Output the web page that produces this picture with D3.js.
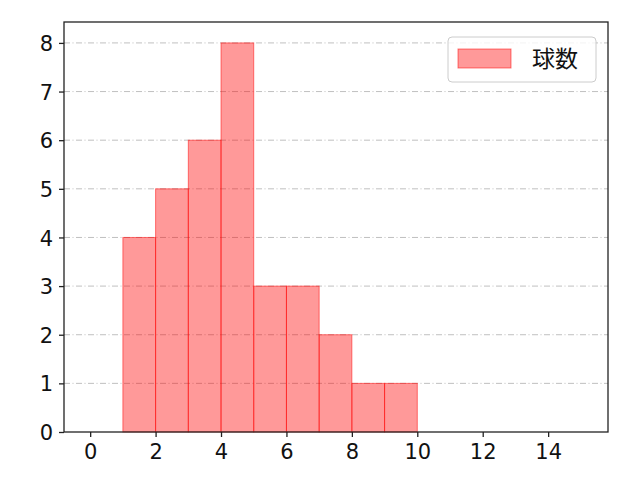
<!DOCTYPE html>
<html><head><meta charset="utf-8">
<script src="https://cdn.jsdelivr.net/npm/d3@7"></script>
<style>body{margin:0;background:#fff}</style>
</head><body>
<svg id="c" width="640" height="480"></svg>
<script>
const binStarts = [1,2,3,4,5,6,7,8,9];
const counts = [4,5,6,8,3,3,2,1,1];
const binWidth = 1;
const xTicks = [0,2,4,6,8,10,12,14];
const yTicks = [0,1,2,3,4,5,6,7,8];
const seriesName = "球数";

const svg = d3.select("#c");
const L=64,R=608,T=22,B=432;
const x = d3.scaleLinear().domain([-0.8,15.83]).range([L,R]);
const y = d3.scaleLinear().domain([0,8.43]).range([B,T]);
const font = "DejaVu Sans, sans-serif";
const cjk = "Noto Sans CJK JP, sans-serif";

// grid
svg.append("g").selectAll("line").data(yTicks.filter(d=>d>0)).join("line")
  .attr("x1",L).attr("x2",R).attr("y1",d=>y(d)).attr("y2",d=>y(d))
  .attr("stroke","#b0b0b0").attr("stroke-width",0.8).attr("stroke-dasharray","6,2.5,1,2.5");

// bars
svg.append("g").selectAll("rect").data(binStarts.map((s,i)=>({s,c:counts[i]}))).join("rect")
  .attr("x",d=>x(d.s)).attr("width",d=>x(d.s+binWidth)-x(d.s))
  .attr("y",d=>y(d.c)).attr("height",d=>y(0)-y(d.c))
  .attr("fill","rgb(255,0,0)").attr("fill-opacity",0.4)
  .attr("stroke","rgb(255,0,0)").attr("stroke-opacity",0.5).attr("stroke-width",1);

// axes
const xa = svg.append("g").attr("transform",`translate(0,${B})`)
  .call(d3.axisBottom(x).tickValues(xTicks).tickSize(5).tickPadding(5).tickFormat(d3.format("d")));
const ya = svg.append("g").attr("transform",`translate(${L},0)`)
  .call(d3.axisLeft(y).tickValues(yTicks).tickSize(5).tickPadding(6).tickFormat(d3.format("d")));
[xa,ya].forEach(a=>{
  a.attr("font-size",null).attr("font-family",null);
  a.select(".domain").remove();
  a.selectAll(".tick line").attr("stroke","#222").attr("stroke-width",1.3);
  a.selectAll("text").attr("font-family",font).attr("font-size",21).attr("fill","#111");
});
xa.selectAll("text").attr("dy","0.8em");
ya.selectAll("text").attr("dy","0.36em");

// frame
svg.append("rect").attr("x",L).attr("y",T).attr("width",R-L).attr("height",B-T)
  .attr("fill","none").attr("stroke","#222").attr("stroke-width",1.3);

// legend
const lg = svg.append("g");
lg.append("rect").attr("x",448).attr("y",37).attr("width",148).attr("height",45).attr("rx",4)
  .attr("fill","#fff").attr("fill-opacity",0.8).attr("stroke","#ccc").attr("stroke-width",1);
lg.append("rect").attr("x",458).attr("y",49).attr("width",53).attr("height",19)
  .attr("fill","rgb(255,0,0)").attr("fill-opacity",0.4)
  .attr("stroke","rgb(255,0,0)").attr("stroke-opacity",0.5);
lg.append("text").attr("x",532).attr("y",67).text(seriesName)
  .attr("font-family",cjk).attr("font-size",23).attr("fill","#111");
</script>
</body></html>
